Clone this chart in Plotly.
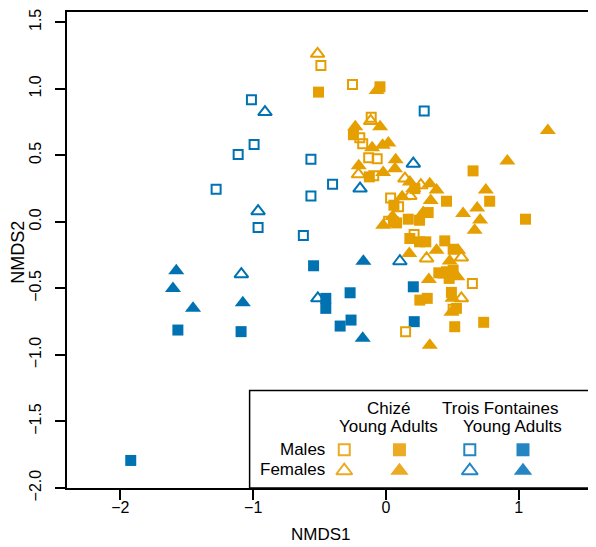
import plotly.graph_objects as go

# ---------------- data (NMDS1, NMDS2) ----------------
# Trois Fontaines, young males (open blue squares)
tf_young_m_x = [-1.013, -0.993, -1.113, -1.279, -0.963, -0.622, -0.565, -0.565, -0.402, 0.288]
tf_young_m_y = [0.918, 0.582, 0.507, 0.245, -0.043, -0.103, 0.470, 0.195, 0.282, 0.833]
# Trois Fontaines, young females (open blue triangles)
tf_young_f_x = [-0.911, -0.963, -1.089, 0.206, -0.195, 0.105, -0.513]
tf_young_f_y = [0.825, 0.080, -0.393, 0.437, 0.250, -0.296, -0.575]
# Trois Fontaines, adult females (filled blue triangles)
tf_adult_f_x = [-1.579, -1.604, -1.453, -1.078, -0.170, -0.175]
tf_adult_f_y = [-0.368, -0.500, -0.650, -0.608, -0.296, -0.875]
# Trois Fontaines, adult males (filled blue squares)
tf_adult_m_x = [-1.567, -1.091, -1.922, -0.545, -0.270, -0.453, -0.453, -0.345, -0.263, 0.206, 0.213]
tf_adult_m_y = [-0.813, -0.825, -1.793, -0.330, -0.533, -0.575, -0.650, -0.783, -0.738, -0.488, -0.750]

# Chizé, young males (open orange squares)
ch_young_m_x = [-0.490, -0.252, -0.111, -0.197, -0.175, -0.130, -0.066, -0.092, 0.035, 0.095,
                0.020, 0.212, 0.651, 0.148, 0.506]
ch_young_m_y = [1.175, 1.032, 0.786, 0.632, 0.587, 0.482, 0.475, 0.347, 0.180, 0.113,
                0.005, -0.095, -0.463, -0.825, -0.656]
# Chizé, young females (open orange triangles)
ch_young_f_x = [-0.515, -0.115, -0.207, 0.143, 0.263, 0.180, 0.306, 0.568, 0.568]
ch_young_f_y = [1.263, 0.758, 0.357, 0.325, 0.275, 0.195, -0.275, -0.268, -0.575]
# Chizé, adult males (filled orange squares)
ch_adult_m_x = [-0.508, -0.045, -0.245, -0.125, 0.656, 0.456, 0.781, 0.060, 0.218, 0.168,
                0.253, 0.318, 1.051, 0.056, 0.080, 0.180, 0.253, 0.300, 0.443, 0.506,
                0.398, 0.456, 0.506, 0.476, 0.255, 0.311, 0.493, 0.531, 0.518, 0.736]
ch_adult_m_y = [0.975, 1.015, 0.655, 0.338, 0.383, 0.155, 0.155, 0.125, 0.250, 0.020,
                0.012, 0.070, 0.020, 0.000, -0.008, -0.125, -0.150, -0.150, -0.143, -0.206,
                -0.383, -0.375, -0.363, -0.425, -0.588, -0.575, -0.530, -0.650, -0.788, -0.755]
# Chizé, adult females (filled orange triangles)
ch_adult_f_x = [-0.070, -0.231, -0.044, -0.104, -0.025, 0.018, 0.073, -0.205, 0.068, -0.021,
                0.180, 0.206, 0.330, 0.381, 0.337, 0.122, 0.752, 0.914, 1.219, 0.581,
                0.687, 0.709, 0.668, 0.281, 0.050, -0.021, 0.176, 0.381, 0.544, 0.480,
                0.323, 0.448, 0.538, 0.501, 0.493, 0.330]
ch_adult_f_y = [0.987, 0.715, 0.715, 0.557, 0.575, 0.593, 0.467, 0.422, 0.400, 0.370,
                0.300, 0.250, 0.287, 0.239, 0.160, 0.188, 0.239, 0.458, 0.687, 0.062,
                0.105, 0.014, -0.063, 0.070, 0.040, -0.026, -0.238, -0.213, -0.213, -0.294,
                -0.433, -0.399, -0.413, -0.575, -0.680, -0.928]

x_ticks = [-2, -1, 0, 1]
x_tick_labels = ["\u22122", "\u22121", "0", "1"]
y_ticks = [-2.0, -1.5, -1.0, -0.5, 0.0, 0.5, 1.0, 1.5]
y_tick_labels = ["\u22122.0", "\u22121.5", "\u22121.0", "\u22120.5", "0.0", "0.5", "1.0", "1.5"]

ORANGE = "#E69F00"
BLUE = "#0072B2"
ORANGE_LEG = "#ECAB24"
BLUE_LEG = "#2386C2"
FONT = "Liberation Sans, Arial, Helvetica, sans-serif"

fig = go.Figure()


def add(xs, ys, symbol, color, size, lw=0):
    fig.add_trace(go.Scatter(
        x=xs, y=ys, mode="markers", showlegend=False, hoverinfo="skip",
        marker=dict(symbol=symbol, size=size, color=color,
                    line=dict(color=color, width=lw))))


add(tf_young_m_x, tf_young_m_y, "square-open", BLUE, 9, 2)
add(tf_young_f_x, tf_young_f_y, "triangle-up-open", BLUE, 12, 2)
add(tf_adult_m_x, tf_adult_m_y, "square", BLUE, 11)
add(tf_adult_f_x, tf_adult_f_y, "triangle-up", BLUE, 14)
add(ch_young_m_x, ch_young_m_y, "square-open", ORANGE, 9, 2)
add(ch_young_f_x, ch_young_f_y, "triangle-up-open", ORANGE, 12, 2)
add(ch_adult_m_x, ch_adult_m_y, "square", ORANGE, 11)
add(ch_adult_f_x, ch_adult_f_y, "triangle-up", ORANGE, 14)

# ---------------- legend keys (on a pixel-scaled overlay axis) ----------------
leg_cols = [337.3, 392.7, 463.3, 516.7]
leg_rows = [441.7, 461.7]
leg_colors = [ORANGE_LEG, ORANGE_LEG, BLUE_LEG, BLUE_LEG]
leg_open = [True, False, True, False]
for cx, col, op in zip(leg_cols, leg_colors, leg_open):
    fig.add_trace(go.Scatter(
        x=[cx], y=[leg_rows[0]], xaxis="x2", yaxis="y2", mode="markers",
        showlegend=False, hoverinfo="skip",
        marker=dict(symbol="square-open" if op else "square", size=11 if op else 13,
                    color=col, line=dict(color=col, width=2 if op else 0))))
    fig.add_trace(go.Scatter(
        x=[cx], y=[leg_rows[1] + 1], xaxis="x2", yaxis="y2", mode="markers",
        showlegend=False, hoverinfo="skip",
        marker=dict(symbol="triangle-up-open" if op else "triangle-up", size=14 if op else 16,
                    color=col, line=dict(color=col, width=2 if op else 0))))

W, H = 596, 547
L, R, T, B = 59, 2, 3, 67

axis_common = dict(showgrid=False, zeroline=False, showline=True, mirror=True,
                   linecolor="black", linewidth=1.5, ticks="outside", ticklen=10,
                   tickwidth=1.5, tickcolor="black",
                   tickfont=dict(family=FONT, size=16, color="black"))

fig.update_layout(
    width=W, height=H,
    margin=dict(l=L, r=R, t=T, b=B, pad=0),
    paper_bgcolor="white", plot_bgcolor="white",
    xaxis=dict(range=[-2.402, 1.612], tickmode="array", tickvals=x_ticks,
               ticktext=x_tick_labels, ticklabelstandoff=-6, **axis_common),
    yaxis=dict(range=[-2.0, 1.577], tickmode="array", tickvals=y_ticks,
               ticktext=y_tick_labels, tickangle=-90, ticklabelstandoff=8, **axis_common),
    xaxis2=dict(range=[L, W - R], overlaying="x", visible=False, fixedrange=True),
    yaxis2=dict(range=[H - B, T], overlaying="y", visible=False, fixedrange=True),
    shapes=[dict(type="rect", xref="paper", yref="paper", x0=0.3426, x1=1.0,
                 y0=0.0, y1=0.2048, fillcolor="white", layer="below",
                 line=dict(color="black", width=1.5))],
)

pw, ph = W - L - R, H - T - B


def px(xp):
    return (xp - L) / pw


def py(yp):
    return (H - B - yp) / ph


ann = []
ann.append(dict(text="NMDS1", x=px(314), y=py(527), xref="paper", yref="paper",
                xanchor="center", yanchor="middle", borderpad=0,
                showarrow=False, font=dict(family=FONT, size=17, color="black")))
ann.append(dict(text="NMDS2", x=px(10), y=py(244), xref="paper", yref="paper",
                xanchor="center", yanchor="middle", borderpad=0,
                textangle=-90, showarrow=False, font=dict(family=FONT, size=18, color="black")))
leg_text = [("Chizé", 381.7, 400.7, "center"), ("Young Adults", 382, 418, "center"),
            ("Trois Fontaines", 493.7, 400.7, "center"), ("Young Adults", 506.3, 418, "center"),
            ("Males", 319.5, 441.7, "right"), ("Females", 319.5, 461.7, "right")]
for t, xx, yy, anc in leg_text:
    ann.append(dict(text=t, x=px(xx), y=py(yy), xref="paper", yref="paper",
                    xanchor=anc, yanchor="middle", showarrow=False,
                    font=dict(family=FONT, size=17, color="black")))
fig.update_layout(annotations=ann)

fig.write_html("out.html")
